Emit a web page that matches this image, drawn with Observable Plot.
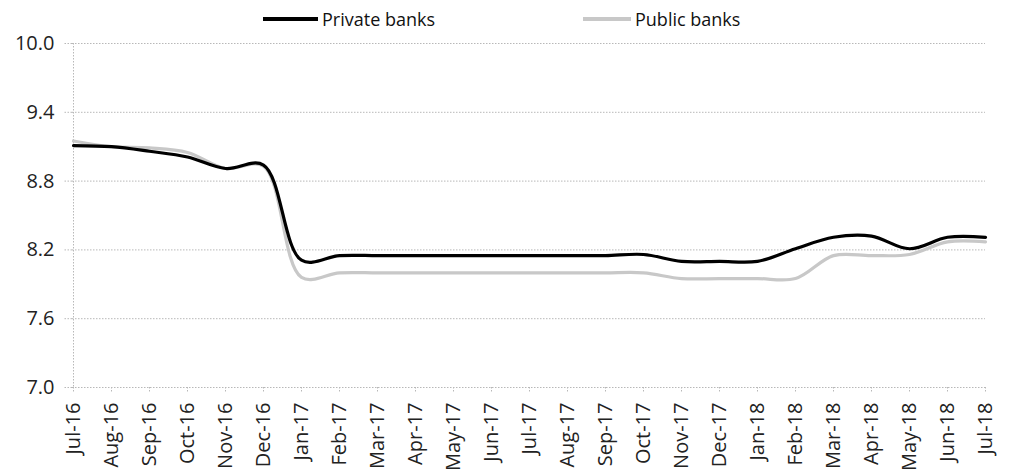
<!DOCTYPE html>
<html>
<head>
<meta charset="utf-8">
<script src="https://cdn.jsdelivr.net/npm/d3@7"></script>
<script src="https://cdn.jsdelivr.net/npm/@observablehq/plot@0.6"></script>
<style>
  html, body { margin: 0; padding: 0; background: #fff; }
  #wrap { position: relative; width: 1011px; height: 473px; font-family: "Open Sans", sans-serif; }
  #legend { position: absolute; top: 0; left: 0; width: 1011px; height: 30px; font-size: 18px; color: #111; }
  .item { position: absolute; top: 6px; height: 26px; display: flex; align-items: center; }
  .sw { display: inline-block; height: 3.5px; margin-right: 4px; }
  #chart { position: absolute; top: 30px; left: 0; width: 1011px; }
</style>
</head>
<body>
<div id="wrap">
  <div id="legend"></div>
  <div id="chart"></div>
</div>
<script>
const months = ["Jul-16","Aug-16","Sep-16","Oct-16","Nov-16","Dec-16","Jan-17","Feb-17","Mar-17","Apr-17","May-17","Jun-17","Jul-17","Aug-17","Sep-17","Oct-17","Nov-17","Dec-17","Jan-18","Feb-18","Mar-18","Apr-18","May-18","Jun-18","Jul-18"];
const privateBanks = [9.11, 9.10, 9.06, 9.01, 8.91, 8.94, 8.11, 8.15, 8.15, 8.15, 8.15, 8.15, 8.15, 8.15, 8.15, 8.16, 8.10, 8.10, 8.10, 8.21, 8.31, 8.32, 8.21, 8.31, 8.31];
const publicBanks = [9.15, 9.10, 9.09, 9.05, 8.91, 8.93, 7.96, 8.00, 8.00, 8.00, 8.00, 8.00, 8.00, 8.00, 8.00, 8.00, 7.95, 7.95, 7.95, 7.95, 8.15, 8.15, 8.16, 8.27, 8.27];
const yTicks = [7.0, 7.6, 8.2, 8.8, 9.4, 10.0];
const seriesNames = ["Private banks", "Public banks"];
const seriesColors = ["#000000", "#c8c8c8"];

const data = [];
months.forEach((m, i) => {
  data.push({month: m, value: publicBanks[i], series: seriesNames[1]});
});
months.forEach((m, i) => {
  data.push({month: m, value: privateBanks[i], series: seriesNames[0]});
});

// legend
const legend = document.getElementById("legend");
const legendX = [263, 583];
seriesNames.forEach((name, i) => {
  const it = document.createElement("div");
  it.className = "item";
  it.style.left = legendX[i] + "px";
  it.innerHTML = `<span class="sw" style="background:${seriesColors[i]};width:${i===0?55:48}px"></span><span>${name}</span>`;
  legend.appendChild(it);
});

const grid = "#b8b8b8";
const chart = Plot.plot({
  width: 1011,
  height: 443,
  marginLeft: 72,
  marginRight: 26,
  marginTop: 13,
  marginBottom: 86,
  style: {fontFamily: "Open Sans, sans-serif", fontSize: "20px", color: "#222", background: "#fff", maxWidth: "none"},
  x: {type: "point", domain: months, padding: 0, label: null},
  y: {domain: [7.0, 10.0], ticks: yTicks, label: null},
  color: {domain: seriesNames, range: seriesColors},
  marks: [
    Plot.ruleY(yTicks, {stroke: grid, strokeDasharray: "1.5,1.5", strokeWidth: 1}),
    Plot.ruleX([months[0]], {stroke: grid, strokeDasharray: "1.5,1.5", strokeWidth: 1}),
    Plot.axisY({ticks: yTicks, tickSize: 9, tickPadding: 9, fontSize: 20, tickFormat: d3.format(".1f"), stroke: grid, strokeDasharray: "1.5,1.5"}),
    Plot.axisX({tickSize: 6, tickPadding: 9, fontSize: 20, tickRotate: -90, stroke: grid, strokeDasharray: "1.5,1.5"}),
    Plot.line(data, {x: "month", y: "value", z: "series", stroke: "series", strokeWidth: 3.2, curve: "catmull-rom"})
  ]
});
d3.select(chart).selectAll("text").style("font-size", "20px").style("font-weight", "normal").style("fill", "#222");
document.getElementById("chart").appendChild(chart);
</script>
</body>
</html>
